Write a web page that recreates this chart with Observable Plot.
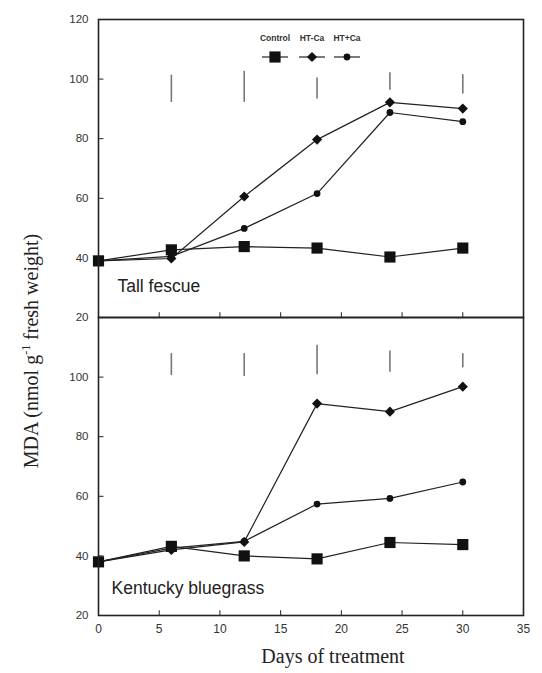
<!DOCTYPE html>
<html>
<head>
<meta charset="utf-8">
<script src="https://cdn.jsdelivr.net/npm/d3@7"></script>
<script src="https://cdn.jsdelivr.net/npm/@observablehq/plot@0.6"></script>
<style>
  html, body { margin: 0; padding: 0; background: #fff; }
  #wrap { position: relative; width: 542px; height: 673px; }
</style>
</head>
<body>
<div id="wrap"></div>
<script>
// ---- data ----
const panels = ["Tall fescue", "Kentucky bluegrass"];
const series = ["Control", "HT-Ca", "HT+Ca"];
const days = [0, 6, 12, 18, 24, 30];

const tfControl = [39, 42.7, 43.8, 43.3, 40.3, 43.3];
const tfHTminus = [39, 39.8, 60.6, 79.7, 92.2, 90.1];
const tfHTplus  = [39, 40.5, 49.9, 61.6, 88.8, 85.7];

const kbControl = [38, 43.2, 40.0, 39.0, 44.5, 43.8];
const kbHTminus = [38, 42.0, 44.7, 91.1, 88.4, 96.8];
const kbHTplus  = [38, 42.6, 44.9, 57.4, 59.3, 64.8];

const lsdDays = [6, 12, 18, 24, 30];
const tfLsdLow  = [92.2, 92.2, 93.3, 96.3, 95.0];
const tfLsdHigh = [101.3, 102.6, 100.4, 102.1, 101.5];
const kbLsdLow  = [100.5, 100.2, 100.8, 101.6, 103.1];
const kbLsdHigh = [107.9, 107.9, 110.7, 108.8, 107.9];

const xTicks = [0, 5, 10, 15, 20, 25, 30, 35];
const yTicksTop = [20, 40, 60, 80, 100, 120];
const yTicksBottom = [20, 40, 60, 80, 100];

// ---- build tables ----
const values = {
  "Tall fescue": {"Control": tfControl, "HT-Ca": tfHTminus, "HT+Ca": tfHTplus},
  "Kentucky bluegrass": {"Control": kbControl, "HT-Ca": kbHTminus, "HT+Ca": kbHTplus}
};
const pts = [];
for (const p of panels) for (const s of series)
  days.forEach((d, i) => pts.push({panel: p, series: s, day: d, v: values[p][s][i]}));

const lsd = [];
lsdDays.forEach((d, i) => {
  lsd.push({panel: "Tall fescue", day: d, lo: tfLsdLow[i], hi: tfLsdHigh[i]});
  lsd.push({panel: "Kentucky bluegrass", day: d, lo: kbLsdLow[i], hi: kbLsdHigh[i]});
});

const yTicks = [
  ...yTicksTop.map(v => ({panel: "Tall fescue", v})),
  ...yTicksBottom.map(v => ({panel: "Kentucky bluegrass", v}))
];
const xInner = xTicks.slice(1, -1);
const xTickData = panels.flatMap(p => xInner.map(x => ({panel: p, x})));

const radius = {"Control": 6.3, "HT-Ca": 4.6, "HT+Ca": 3.4};
const symbols = ["square", "diamond2", "circle"];

const ink = "#222";
const chart = Plot.plot({
  width: 542,
  height: 673,
  marginLeft: 98,
  marginRight: 19,
  marginTop: 18,
  marginBottom: 58,
  style: {fontFamily: "'Liberation Sans', Arial, sans-serif", fontSize: "11.5px", color: ink, background: "#fff"},
  x: {domain: [0, 35]},
  y: {domain: [20, 120], axis: null},
  fy: {domain: panels, padding: 0, axis: null},
  symbol: {domain: series, range: symbols},
  r: {type: "identity"},
  marks: [
    Plot.axisX({ticks: xTicks, tickSize: 0, tickPadding: 9, label: null, fill: "#333", fontSize: 12}),
    Plot.ruleX(xTickData, {fy: "panel", x: "x", y1: 20, y2: 21.6, stroke: ink, strokeWidth: 1}),
    Plot.ruleY(yTicks, {fy: "panel", y: "v", x1: 0, x2: 0.45, stroke: ink, strokeWidth: 1}),
    Plot.text(yTicks, {fy: "panel", y: "v", text: d => String(d.v), frameAnchor: "left", textAnchor: "end", dx: -10, fill: "#333", fontSize: 11.5}),
    Plot.ruleX(lsd, {fy: "panel", x: "day", y1: "lo", y2: "hi", stroke: "#777", strokeWidth: 1.6}),
    Plot.line(pts, {fy: "panel", x: "day", y: "v", z: "series", stroke: ink, strokeWidth: 1.2}),
    Plot.dot(pts, {fy: "panel", x: "day", y: "v", symbol: "series", r: d => radius[d.series], fill: "#111", stroke: "none"}),
    Plot.text(["Tall fescue"], {fy: d => d, text: d => d, frameAnchor: "bottom-left", dx: 19, dy: -26, textAnchor: "start", fontSize: 17.5, fill: "#222"}),
    Plot.text(["Kentucky bluegrass"], {fy: d => d, text: d => d, frameAnchor: "bottom-left", dx: 13, dy: -22, textAnchor: "start", fontSize: 17.5, fill: "#222"}),
    Plot.text(["Days of treatment"], {fy: () => "Kentucky bluegrass", text: d => d, frameAnchor: "bottom", dx: 22, dy: 47, fontFamily: "'Liberation Serif', 'Times New Roman', serif", fontSize: 20, fill: "#222"}),
    Plot.frame({stroke: ink, strokeWidth: 1.6})
  ]
});

document.getElementById("wrap").appendChild(chart);

// y-axis title (rotated, with superscript)
const svg = d3.select(chart);
const yl = svg.append("text")
  .attr("transform", "translate(38,351) rotate(-90)")
  .attr("text-anchor", "middle")
  .attr("font-family", "'Liberation Serif', 'Times New Roman', serif")
  .attr("font-size", 20)
  .attr("fill", "#222");
yl.append("tspan").text("MDA (nmol g");
yl.append("tspan").attr("font-size", 12).attr("dy", -8).text("-1");
yl.append("tspan").attr("dy", 8).text(" fresh weight)");

// legend (top panel, above the markers)
const legX = [275, 312, 347];
const leg = svg.append("g").attr("font-family", "'Liberation Sans', Arial, sans-serif");
const d3sym = {square: d3.symbolSquare, diamond2: d3.symbolDiamond2, circle: d3.symbolCircle};
series.forEach((s, i) => {
  leg.append("text").attr("x", legX[i]).attr("y", 41).attr("text-anchor", "middle")
    .attr("font-size", 8.5).attr("font-weight", "bold").attr("fill", "#333").text(s);
  leg.append("line").attr("x1", legX[i] - 13).attr("x2", legX[i] + 13)
    .attr("y1", 57).attr("y2", 57).attr("stroke", ink).attr("stroke-width", 1.2);
  const r = radius[s];
  leg.append("path").attr("transform", `translate(${legX[i]},57)`)
    .attr("d", d3.symbol(d3sym[symbols[i]], Math.PI * r * r)()).attr("fill", "#111");
});
</script>
</body>
</html>
